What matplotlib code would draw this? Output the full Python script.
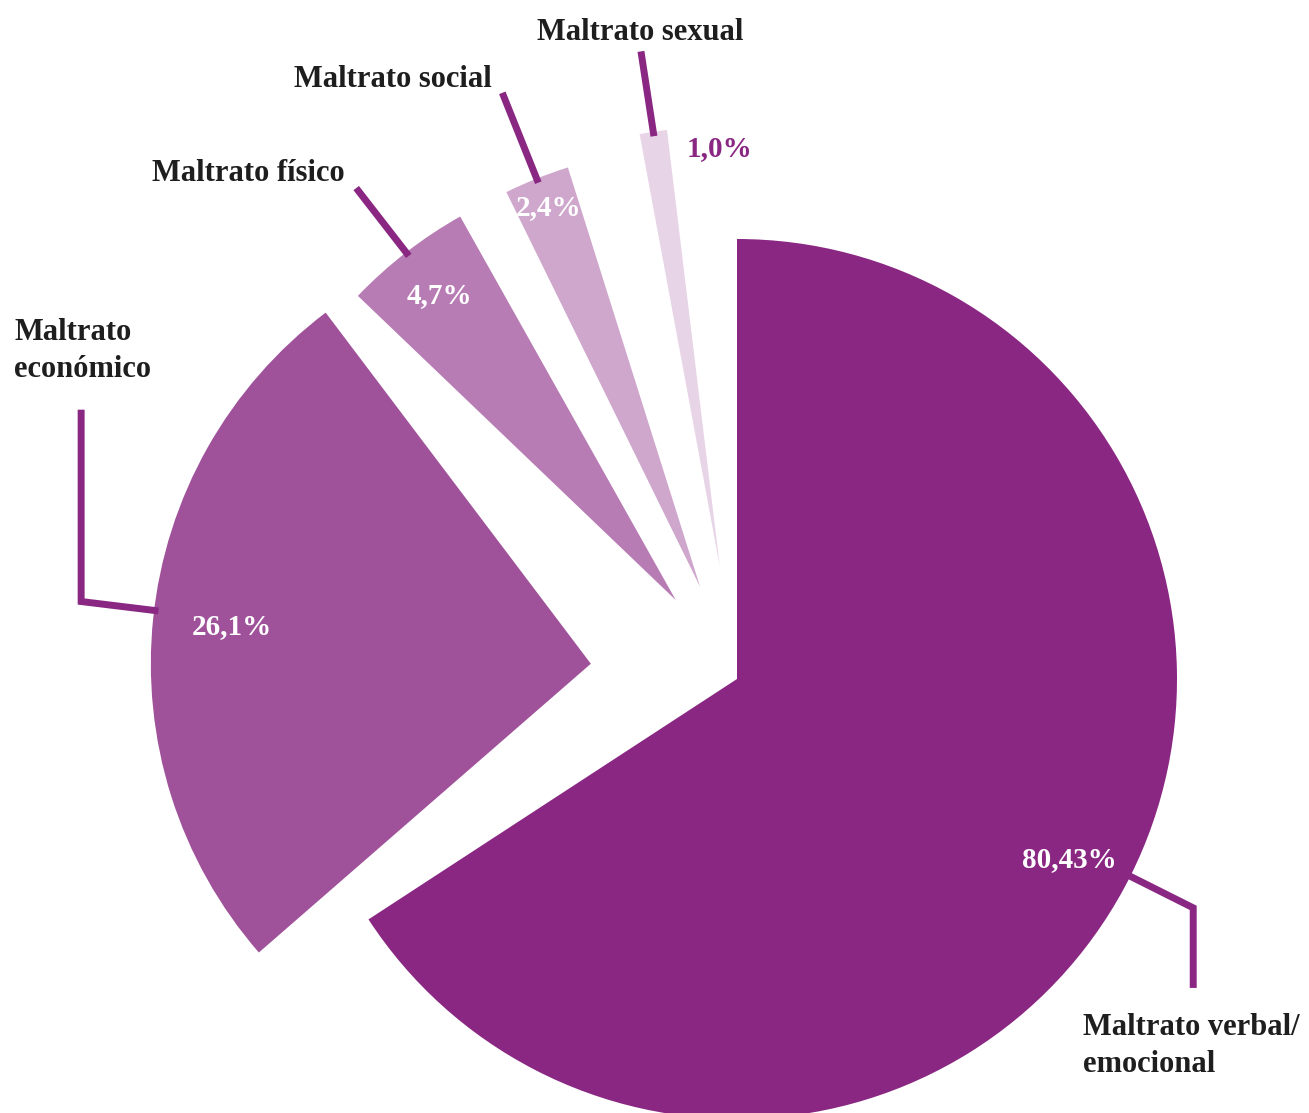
import numpy as np
import matplotlib.pyplot as plt

# data
categories = ["Maltrato verbal/\nemocional", "Maltrato\neconómico", "Maltrato físico",
              "Maltrato social", "Maltrato sexual"]
shares = [65.8, 26.1, 4.7, 2.4, 1.0]          # slice sizes as drawn
pct_labels = ["80,43%", "26,1%", "4,7%", "2,4%", "1,0%"]

# styling / layout
colors = ["#892783", "#9F529A", "#B87CB4", "#CFA7CD", "#E8D4E7"]
line_color = "#892783"
explode = [0.0, 0.334, 0.227, 0.225, 0.258]
turn = [0.0, 7.9, 17.1, 13.9, 6.9]            # extra rotation of each slice (deg)
pct_r = [0.86, 0.82, 0.875, 0.93, 0.95]
pct_turn = [0, 0, 0, 0, -8.7]
pct_colors = ["white", "white", "white", "white", line_color]
lead_r = [1.16, 1.167, 1.185, 1.21, 1.185]
lead_turn = [1.8, -1.0, 0, 0, 0]
lead_drop = [-0.182, 0.436, 0, 0, 0]

W, H = 1309, 1113
CX, CY, R = 737, 679, 440.0


def px(x, y):
    # pixel position of the reference -> data units (radius = 1)
    return (x - CX) / R, (CY - y) / R


plt.rcParams['font.family'] = ['Liberation Serif', 'DejaVu Serif']

fig = plt.figure(figsize=(W / 100, H / 100), dpi=100)
ax = fig.add_axes([0, 0, 1, 1])

wedges, _ = ax.pie(shares, colors=colors, startangle=90, counterclock=False,
                   radius=1, wedgeprops=dict(linewidth=0))

for i, w in enumerate(wedges):
    t1 = w.theta1 + turn[i]
    t2 = w.theta2 + turn[i]
    w.set_theta1(t1)
    w.set_theta2(t2)
    mid = np.deg2rad((t1 + t2) / 2)
    c = (explode[i] * np.cos(mid), explode[i] * np.sin(mid))
    w.set_center(c)

    # percentage label
    a = mid + np.deg2rad(pct_turn[i])
    ax.text(c[0] + pct_r[i] * np.cos(a), c[1] + pct_r[i] * np.sin(a), pct_labels[i],
            ha='center', va='center', fontsize=21, fontweight='bold', color=pct_colors[i])

    # leader line
    la = mid + np.deg2rad(lead_turn[i])
    x0, y0 = c[0] + 0.99 * np.cos(la), c[1] + 0.99 * np.sin(la)
    x1, y1 = c[0] + lead_r[i] * np.cos(la), c[1] + lead_r[i] * np.sin(la)
    xs, ys = [x0, x1], [y0, y1]
    if lead_drop[i] != 0:
        xs.append(x1)
        ys.append(y1 + lead_drop[i])
    ax.plot(xs, ys, color=line_color, lw=5, solid_joinstyle='miter',
            solid_capstyle='butt')

# category labels
lab_kw = dict(fontsize=22, fontweight='bold', color='#1e1e1e')
ax.text(*px(1083, 1079), categories[0], ha='left', va='bottom', linespacing=1.38, **lab_kw)
ax.text(*px(14, 384), categories[1], ha='left', va='bottom', linespacing=1.38, **lab_kw)
ax.text(*px(345, 181), categories[2], ha='right', va='baseline', **lab_kw)
ax.text(*px(492, 87), categories[3], ha='right', va='baseline', **lab_kw)
ax.text(*px(640, 40), categories[4], ha='center', va='baseline', **lab_kw)

x_lo, y_lo = px(0, H)
x_hi, y_hi = px(W, 0)
ax.set_xlim(x_lo, x_hi)
ax.set_ylim(y_lo, y_hi)
ax.set_aspect('equal')
ax.axis('off')

plt.savefig('out.png', dpi=100)
